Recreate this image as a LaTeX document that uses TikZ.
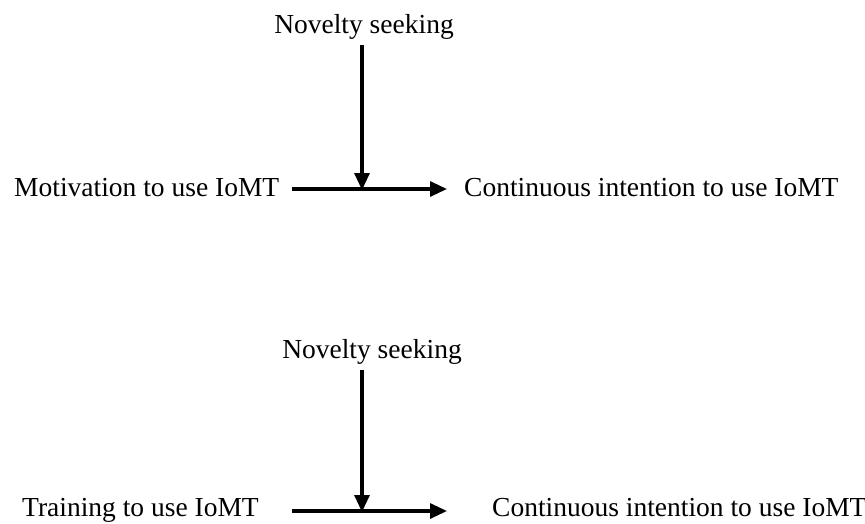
\documentclass[tikz,border=0pt]{standalone}
\usepackage{fontspec}
\setmainfont{Liberation Serif}
\usetikzlibrary{arrows.meta}
\begin{document}
\begin{tikzpicture}[x=1pt,y=-1pt,
  lbl/.style={inner sep=0pt,font=\fontsize{27.5}{32}\selectfont},
  link/.style={line width=3.2pt,-{Triangle[length=17pt,width=15pt]}}]
\useasboundingbox (0,0) rectangle (865,523);
% upper model
\node[lbl,anchor=base] (nov1) at (364,33) {Novelty seeking};
\node[lbl,anchor=base west] (mot) at (14,196) {Motivation to use IoMT};
\node[lbl,anchor=base west] (ci1) at (464,196) {Continuous intention to use IoMT};
\coordinate (j1) at (362,190);
\coordinate (s1) at (292,189);
\coordinate (e1) at (447,189);
\draw[link] (s1) -- (e1);
\draw[link] (j1 |- 0,45) -- (j1);
% lower model
\node[lbl,anchor=base] (nov2) at (372,358) {Novelty seeking};
\node[lbl,anchor=base west] (trn) at (22,516) {Training to use IoMT};
\node[lbl,anchor=base west] (ci2) at (492,516) {Continuous intention to use IoMT};
\coordinate (j2) at (362,512);
\coordinate (s2) at (292,511);
\coordinate (e2) at (447,511);
\draw[link] (s2) -- (e2);
\draw[link] (j2 |- 0,370) -- (j2);
\end{tikzpicture}
\end{document}
